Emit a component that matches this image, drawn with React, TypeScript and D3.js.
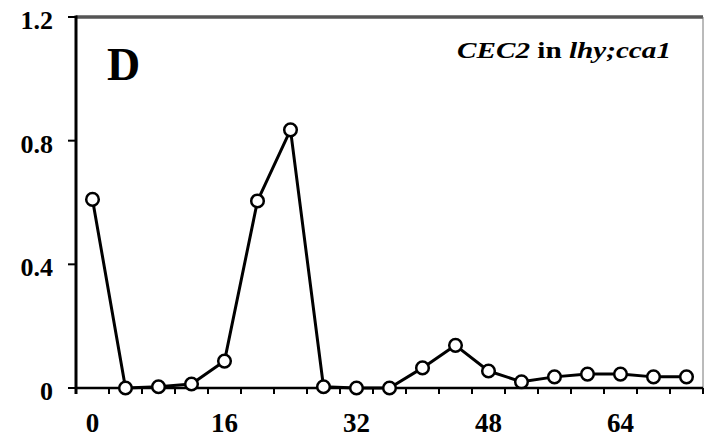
import React, { useRef, useEffect } from "react";
import * as d3 from "d3";

// hours after transfer, sampled every 4 h
const hours = [0, 4, 8, 12, 16, 20, 24, 28, 32, 36, 40, 44, 48, 52, 56, 60, 64, 68, 72];
const expression = [0.61, 0, 0.004, 0.013, 0.087, 0.605, 0.835, 0.004, 0, 0, 0.065, 0.138, 0.055, 0.02, 0.036, 0.045, 0.045, 0.036, 0.036];
const xTickLabels = [0, 16, 32, 48, 64];
const yTickLabels = [0, 0.4, 0.8, 1.2];

const W = 705;
const H = 437;

const App = () => {
  const svgRef = useRef(null);

  useEffect(() => {
    const svg = d3.select(svgRef.current);
    svg.selectAll("*").remove();

    const left = 76;
    const right = 703;
    const top = 17;
    const bottom = 388;

    const x = d3.scaleLinear().domain([-2, 74]).range([left, right]);
    const y = d3.scaleLinear().domain([0, 1.2]).range([bottom, top]);

    const font = "Liberation Serif, DejaVu Serif, serif";

    // frame: top and right borders
    svg.append("line")
      .attr("x1", left).attr("x2", right)
      .attr("y1", top).attr("y2", top)
      .attr("stroke", "#555").attr("stroke-width", 3.5);
    svg.append("line")
      .attr("x1", right).attr("x2", right)
      .attr("y1", top).attr("y2", bottom)
      .attr("stroke", "#777").attr("stroke-width", 1);

    // minor x ticks between samples
    const minor = d3.range(-2, 75, 4);
    svg.append("g")
      .selectAll("line")
      .data(minor)
      .enter()
      .append("line")
      .attr("x1", (d) => x(d)).attr("x2", (d) => x(d))
      .attr("y1", bottom).attr("y2", bottom + 6)
      .attr("stroke", "#000").attr("stroke-width", 2);

    // y ticks
    svg.append("g")
      .selectAll("line")
      .data(yTickLabels)
      .enter()
      .append("line")
      .attr("x1", left - 8).attr("x2", left)
      .attr("y1", (d) => y(d)).attr("y2", (d) => y(d))
      .attr("stroke", "#000").attr("stroke-width", 2);

    // axes lines
    svg.append("line")
      .attr("x1", left).attr("x2", right)
      .attr("y1", bottom).attr("y2", bottom)
      .attr("stroke", "#000").attr("stroke-width", 2.5);
    svg.append("line")
      .attr("x1", left).attr("x2", left)
      .attr("y1", top - 1.5).attr("y2", bottom + 6)
      .attr("stroke", "#000").attr("stroke-width", 3);

    // tick labels
    svg.append("g")
      .selectAll("text")
      .data(yTickLabels)
      .enter()
      .append("text")
      .attr("x", 53)
      .attr("y", (d) => y(d) + 12)
      .attr("text-anchor", "end")
      .style("font-family", font)
      .style("font-weight", "bold")
      .style("font-size", "26px")
      .text((d) => (d === 0 ? "0" : d.toFixed(1)));

    svg.append("g")
      .selectAll("text")
      .data(xTickLabels)
      .enter()
      .append("text")
      .attr("x", (d) => x(d))
      .attr("y", 432)
      .attr("text-anchor", "middle")
      .style("font-family", font)
      .style("font-weight", "bold")
      .style("font-size", "27px")
      .text((d) => d);

    // data line
    const data = hours.map((h, i) => ({ h, v: expression[i] }));
    const line = d3.line().x((d) => x(d.h)).y((d) => y(d.v));
    svg.append("path")
      .datum(data)
      .attr("d", line)
      .attr("fill", "none")
      .attr("stroke", "#000")
      .attr("stroke-width", 3)
      .attr("stroke-linejoin", "round");

    svg.append("g")
      .selectAll("circle")
      .data(data)
      .enter()
      .append("circle")
      .attr("cx", (d) => x(d.h))
      .attr("cy", (d) => y(d.v))
      .attr("r", 6.3)
      .attr("fill", "#fff")
      .attr("stroke", "#000")
      .attr("stroke-width", 2.5);

    // panel letter
    svg.append("text")
      .attr("x", 107).attr("y", 80)
      .style("font-family", font)
      .style("font-weight", "bold")
      .style("font-size", "46px")
      .text("D");

    // annotation (stretched to the reference width)
    const note = svg.append("text")
      .attr("x", 457).attr("y", 58)
      .attr("textLength", 214)
      .attr("lengthAdjust", "spacingAndGlyphs")
      .style("font-family", font)
      .style("font-weight", "bold")
      .style("font-size", "24px");
    note.append("tspan").style("font-style", "italic").text("CEC2");
    note.append("tspan").text(" in ");
    note.append("tspan").style("font-style", "italic").text("lhy;cca1");
  }, []);

  return (
    <svg
      ref={svgRef}
      width={W}
      height={H}
      style={{ position: "absolute", left: 0, top: 0, background: "#fff" }}
    ></svg>
  );
};

export default App;
